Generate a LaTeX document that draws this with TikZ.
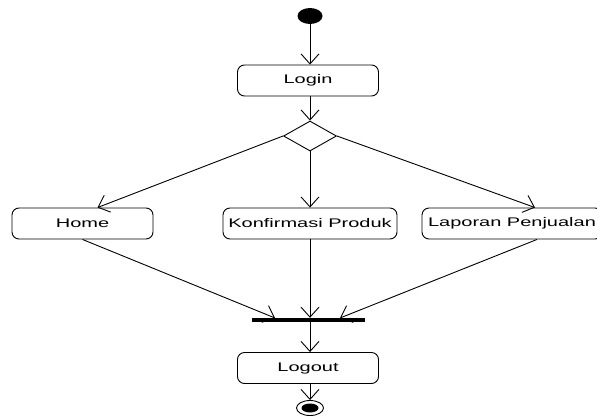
\documentclass[tikz,border=0pt]{standalone}
\usepackage{fontspec}
\setmainfont{Liberation Sans}[FakeStretch=1.6]
\usetikzlibrary{arrows.meta,shapes.geometric}
\begin{document}
\begin{tikzpicture}[x=1pt,y=-1pt,
  act/.style={draw,rounded corners=7pt,line width=0.9pt,minimum width=141pt,minimum height=31pt,inner sep=0pt,font=\fontsize{12.5}{14}\selectfont},
  flow/.style={line width=0.9pt,-{Straight Barb[length=10pt,width=18pt,line width=0.9pt]}},
  plain/.style={line width=0.9pt}]
\clip (0,0) rectangle (597,418);
\fill[white] (0,0) rectangle (597,418);

% initial and final states
\node[ellipse,fill=black,minimum width=25pt,minimum height=16pt,inner sep=0pt] (start) at (310,16) {};
\node[ellipse,draw,line width=0.9pt,minimum width=27pt,minimum height=15pt,inner sep=0pt] (final) at (310,408) {};
\node[ellipse,fill=black,minimum width=17pt,minimum height=9pt,inner sep=0pt] (finalin) at (310,408) {};

% activities
\node[act] (login) at (308,80.5) {Login};
\node[diamond,draw,line width=0.9pt,minimum width=53pt,minimum height=30pt,inner sep=0pt] (dec) at (310,136) {};
\node[act] (home) at (82.5,223.5) {Home};
\node[act,minimum width=174pt] (konf) at (310,223.5) {Konfirmasi Produk};
\node[act,minimum width=180pt] (lap) at (512,223.5) {Laporan Penjualan};
\node[fill=black,minimum width=113pt,minimum height=4pt,inner sep=0pt] (bar) at (308.5,320) {};
\node[act] (logout) at (308,368) {Logout};

% transitions
\draw[flow] (start) -- (login.north -| start);
\draw[flow] (login.south -| dec) -- (dec.north);
\draw[flow] (dec.west) -- ([xshift=15pt]home.north);
\draw[flow] (dec.south) -- (konf.north);
\draw[flow] (dec.east) -- ([xshift=23pt]lap.north);
\coordinate (j1) at (275,318);
\coordinate (j3) at (340,318);
\draw[flow] (home.south) -- (j1);
\draw[flow] (konf.south) -- (bar.north -| konf);
\draw[flow] ([xshift=25pt]lap.south) -- (j3);
\draw[flow] (bar.south -| konf) -- (logout.north -| konf);
\draw[flow] (logout.south -| final) -- (final.north);
\end{tikzpicture}
\end{document}
